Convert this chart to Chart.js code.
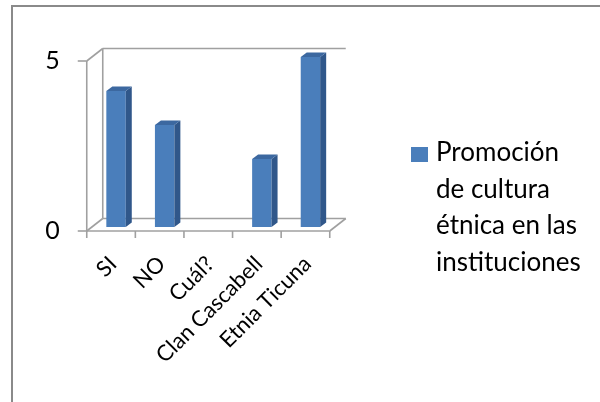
<!DOCTYPE html>
<html>
<head>
<meta charset="utf-8">
<title>Promoción de cultura étnica</title>
<script src="https://cdn.jsdelivr.net/npm/chart.js@4.4.0/dist/chart.umd.min.js"></script>
<style>
  html, body { margin: 0; padding: 0; background: #fff; overflow: hidden; }
  #wrap { position: relative; width: 600px; height: 402px; overflow: hidden; }
  #frame { position: absolute; left: 11px; top: 5px; width: 700px; height: 500px;
           border-left: 2px solid #8a8a8a; border-top: 2px solid #8a8a8a; }
  #chart { position: absolute; left: 0; top: 0; }
  #legend { position: absolute; left: 436px; top: 133px; font-family: Lato, sans-serif;
            font-size: 26px; line-height: 36.7px; color: #000; }
  #legend .box { position: absolute; left: -25px; top: 14px; width: 17px; height: 15px; }
</style>
</head>
<body>
<div id="wrap">
  <div id="frame"></div>
  <canvas id="chart" width="600" height="402"></canvas>
  <div id="legend"></div>
</div>
<script>
// survey answers
var categories = ['SI', 'NO', 'Cuál?', 'Clan Cascabell', 'Etnia Ticuna'];
var values = [4, 3, 0, 2, 5];
var legendLines = ['Promoción', 'de cultura', 'étnica en las', 'instituciones'];
var yTicks = [0, 5];

var barFront = '#4a7ebb';
var barSide = '#30578a';
var barTop = '#3c68a0';
var lineGray = '#a0a0a0';

// 3d look: front plane, back wall and bar depth offsets relative to the bar plane
var front = { dx: -5, dy: 4 };
var wall = { dx: 16, dy: -12.5 };
var barDepth = { dx: 6, dy: -4.5 };

function seg(ctx, x1, y1, x2, y2) {
  ctx.beginPath();
  ctx.moveTo(x1, y1);
  ctx.lineTo(x2, y2);
  ctx.stroke();
}

var frame3d = {
  id: 'frame3d',
  beforeDatasetsDraw: function(chart) {
    var ctx = chart.ctx, ca = chart.chartArea, ys = chart.scales.y;
    var fl = ca.left + front.dx, fr = ca.right + front.dx;
    var fb = ys.getPixelForValue(yTicks[0]) + front.dy;
    var ft = ys.getPixelForValue(yTicks[yTicks.length - 1]) + front.dy;
    var bl = fl + wall.dx, br = fr + wall.dx, bb = fb + wall.dy, bt = ft + wall.dy;
    ctx.save();
    ctx.strokeStyle = lineGray;
    ctx.lineWidth = 1.6;
    // back wall
    seg(ctx, bl, bt, br, bt);
    seg(ctx, bl, bt, bl, bb);
    seg(ctx, fl, ft, bl, bt);
    // floor
    seg(ctx, fl, fb, fr, fb);
    seg(ctx, bl, bb, br, bb);
    seg(ctx, fl, fb, bl, bb);
    seg(ctx, fr, fb, br, bb);
    // value axis and its ticks
    seg(ctx, fl, ft, fl, fb);
    yTicks.forEach(function(v) {
      var py = ys.getPixelForValue(v) + front.dy;
      seg(ctx, fl - 9, py, fl, py);
    });
    // category ticks
    var n = categories.length;
    for (var i = 0; i <= n; i++) {
      var px = fl + i * (fr - fl) / n;
      seg(ctx, px, fb, px, fb + 7);
    }
    ctx.restore();
  },
  afterDatasetsDraw: function(chart) {
    var ctx = chart.ctx;
    var meta = chart.getDatasetMeta(0);
    ctx.save();
    meta.data.forEach(function(bar) {
      var p = bar.getProps(['x', 'y', 'base', 'width'], true);
      if (p.base - p.y < 1) return;
      var l = p.x - p.width / 2, r = p.x + p.width / 2;
      ctx.fillStyle = barSide;
      ctx.beginPath();
      ctx.moveTo(r, p.y);
      ctx.lineTo(r + barDepth.dx, p.y + barDepth.dy);
      ctx.lineTo(r + barDepth.dx, p.base + barDepth.dy);
      ctx.lineTo(r, p.base);
      ctx.closePath();
      ctx.fill();
      ctx.fillStyle = barTop;
      ctx.beginPath();
      ctx.moveTo(l, p.y);
      ctx.lineTo(l + barDepth.dx, p.y + barDepth.dy);
      ctx.lineTo(r + barDepth.dx, p.y + barDepth.dy);
      ctx.lineTo(r, p.y);
      ctx.closePath();
      ctx.fill();
    });
    ctx.restore();
  }
};

new Chart(document.getElementById('chart'), {
  type: 'bar',
  data: {
    labels: categories,
    datasets: [{
      label: legendLines.join(' '),
      data: values,
      backgroundColor: barFront,
      borderWidth: 0,
      barPercentage: 0.4,
      categoryPercentage: 1
    }]
  },
  options: {
    responsive: false,
    animation: false,
    events: [],
    layout: { padding: { left: 0, top: 57, right: 265.25, bottom: 0 } },
    plugins: { legend: { display: false }, tooltip: { enabled: false } },
    scales: {
      x: {
        grid: { display: false, drawTicks: false },
        border: { display: false },
        ticks: {
          color: '#000',
          font: { family: 'Lato', size: 22 },
          minRotation: 45,
          maxRotation: 45,
          autoSkip: false,
          labelOffset: -3,
          padding: 24
        },
        afterFit: function(scale) { scale.height = 175; }
      },
      y: {
        min: 0,
        max: 5,
        grid: { display: false, drawTicks: false },
        border: { display: false },
        ticks: {
          stepSize: 5,
          color: '#000',
          font: { family: 'Lato', size: 25 },
          padding: 32,
          labelOffset: 4
        },
        afterFit: function(scale) { scale.width = 91.75; }
      }
    }
  },
  plugins: [frame3d]
});

// legend to the right of the plot
var legend = document.getElementById('legend');
var box = document.createElement('div');
box.className = 'box';
box.style.background = barFront;
legend.appendChild(box);
legendLines.forEach(function(t) {
  var d = document.createElement('div');
  d.textContent = t;
  legend.appendChild(d);
});
</script>
</body>
</html>
